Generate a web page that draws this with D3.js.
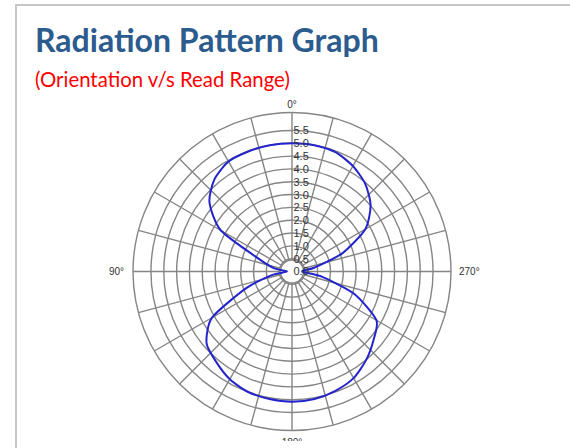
<!DOCTYPE html>
<meta charset="utf-8">
<style>
body { margin: 0; background: #fff; }
.grid line, .grid circle { stroke: #858585; stroke-width: 1.4px; fill: none; }
.tick text { font: 11px Arial, "Liberation Sans", sans-serif; fill: #333; }
.ang text { font: 10px Arial, "Liberation Sans", sans-serif; fill: #333; }
</style>
<svg width="570" height="448"></svg>
<script src="https://d3js.org/d3.v7.min.js"></script>
<script>

// orientation in degrees (counter-clockwise from top) and read range
var angles = [0, 10, 20, 30, 40, 50, 60, 70, 80, 90, 100, 110, 120, 130, 140, 150, 160, 170,
              180, 190, 200, 210, 220, 230, 240, 250, 260, 270, 280, 290, 300, 310, 320, 330, 340, 350];
var readRange = [5.0, 5.0, 4.98, 4.95, 4.7, 4.2, 3.2, 1.3, 0.7, 0.2, 0.8, 1.9, 3.6, 4.35, 4.6, 4.85, 5.0, 5.05,
                 5.08, 5.05, 4.95, 4.8, 4.5, 4.15, 3.8, 2.6, 1.2, 0.4, 0.9, 2.1, 3.3, 4.0, 4.45, 4.75, 4.95, 5.0];
var ringValues = [0.5, 1.0, 1.5, 2.0, 2.5, 3.0, 3.5, 4.0, 4.5, 5.0, 5.5];
var rangeLabels = ["0.0", "0.5", "1.0", "1.5", "2.0", "2.5", "3.0", "3.5", "4.0", "4.5", "5.0", "5.5"];
var angleLabels = ["0°", "90°", "180°", "270°"];
var labelAngles = [0, 90, 180, 270];
var spokeStep = 15;
var maxValue = 6.2;

var svg = d3.select("svg");
var cx = 292, cy = 271.5, outerR = 159, hubR = 11.5;

// page border
svg.append("path")
	.attr("d", "M16,448 L16,5 L570,5")
	.attr("fill", "none")
	.attr("stroke", "#c6c6c6")
	.attr("stroke-width", 2);

// titles, fitted to their width in the picture
function fitText(sel, width) {
	var w = sel.node().getComputedTextLength();
	var size = parseFloat(sel.attr("font-size"));
	sel.attr("font-size", (size * width / w).toFixed(2));
}
var title = svg.append("text")
	.attr("x", 35).attr("y", 52)
	.attr("font-family", "Lato, 'Open Sans', sans-serif")
	.attr("font-weight", "bold")
	.attr("font-size", 30)
	.attr("fill", "#2c5b8e")
	.text("Radiation Pattern Graph");
fitText(title, 344);

var sub = svg.append("text")
	.attr("x", 35).attr("y", 87)
	.attr("font-family", "Lato, 'Open Sans', sans-serif")
	.attr("font-size", 18)
	.attr("fill", "#ff0000")
	.text("(Orientation v/s Read Range)");
fitText(sub, 255);

var r = d3.scaleLinear().domain([0, maxValue]).range([0, outerR]);
var g = svg.append("g").attr("transform", "translate(" + cx + "," + cy + ")");

function toRad(deg) { return -deg * Math.PI / 180; }

var grid = g.append("g").attr("class", "grid");
grid.selectAll("circle.ring")
	.data(ringValues)
	.enter().append("circle")
	.attr("class", "ring")
	.attr("r", function(d) { return r(d); });
grid.append("circle").attr("r", outerR);

grid.selectAll("line")
	.data(d3.range(0, 360, spokeStep))
	.enter().append("line")
	.attr("x1", function(d) { return hubR * Math.sin(toRad(d)); })
	.attr("y1", function(d) { return -hubR * Math.cos(toRad(d)); })
	.attr("x2", function(d) { return outerR * Math.sin(toRad(d)); })
	.attr("y2", function(d) { return -outerR * Math.cos(toRad(d)); });

grid.append("circle").attr("r", hubR).style("fill", "#fff");

// pattern
var line = d3.lineRadial()
	.angle(function(d) { return toRad(d[0]); })
	.radius(function(d) { return r(d[1]); })
	.curve(d3.curveCardinalClosed.tension(0.3));

g.append("path")
	.datum(angles.map(function(a, i) { return [a, readRange[i]]; }))
	.attr("d", line)
	.attr("fill", "none")
	.attr("stroke", "#2424cc")
	.attr("stroke-width", 2);

// range labels along the 0° spoke
g.append("g").attr("class", "tick")
	.selectAll("text")
	.data(rangeLabels)
	.enter().append("text")
	.attr("x", 1.5)
	.attr("y", function(d) { return -r(+d); })
	.attr("dy", "0.36em")
	.text(function(d) { return d; });

// angle labels; the picture is cut just under the 180° label's top
svg.append("clipPath").attr("id", "cut")
	.append("rect").attr("width", 570).attr("height", 441);

var ang = g.append("g").attr("class", "ang")
	.attr("clip-path", "url(#cut)")
	.attr("transform", "translate(" + (-cx) + "," + (-cy) + ")");
ang.selectAll("text")
	.data(labelAngles)
	.enter().append("text")
	.attr("x", function(d) {
		var s = Math.sin(toRad(d));
		return cx + (outerR + (s < 0 ? 9 : s > 0 ? 8 : 0)) * s;
	})
	.attr("y", function(d) {
		var c = Math.cos(toRad(d));
		return cy - (outerR + (c < 0 ? 11.5 : 8)) * c;
	})
	.attr("dy", "0.35em")
	.attr("text-anchor", function(d) {
		var s = Math.sin(toRad(d));
		return s < -0.5 ? "end" : s > 0.5 ? "start" : "middle";
	})
	.text(function(d, i) { return angleLabels[i]; });

</script>
